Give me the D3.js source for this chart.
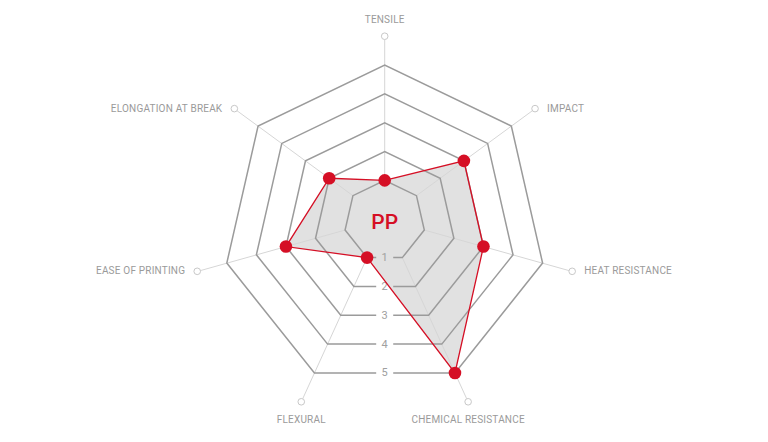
<!DOCTYPE html>
<html>
<head>
<meta charset="utf-8">
<script src="https://cdn.jsdelivr.net/npm/d3@7"></script>
<style>
  body { margin: 0; background: #fff; }
  svg { display: block; }
  text { font-family: Roboto, "DejaVu Sans", sans-serif; }
</style>
</head>
<body>
<svg></svg>
<script>
let axes = ["TENSILE", "IMPACT", "HEAT RESISTANCE", "CHEMICAL RESISTANCE", "FLEXURAL", "EASE OF PRINTING", "ELONGATION AT BREAK"]
let values = [1, 3, 3, 5, 1, 3, 2]
let ticks = [1, 2, 3, 4, 5]
let material = "PP"

let width = 768
let height = 442
let cx = 384.7
let cy = 219
// each ring is centred on its bounding box, so vertices drift down a little with radius
let shift = (1 - Math.cos(Math.PI / 7)) / 2

let svg = d3.select("svg").attr("width", width).attr("height", height)

let rScale = d3.scaleLinear().domain([0, 6]).range([10.3, 192.3])
let aScale = d3.scaleLinear().domain([0, axes.length]).range([0, 2 * Math.PI])

let point = (i, v) => {
    let a = aScale(i)
    let r = rScale(v)
    return [cx + r * Math.sin(a), cy + r * (shift - Math.cos(a))]
}

// data fill goes under the grid
svg.append("path")
    .attr("d", d3.line()(values.map((v, i) => point(i, v))) + "Z")
    .attr("fill", "#e1e1e1")

// axis lines + end markers
axes.forEach((name, i) => {
    let p1 = point(i, 1)
    let p2 = point(i, 6)
    let a = aScale(i)
    let cr = 3.3
    svg.append("line")
        .attr("x1", p1[0]).attr("y1", p1[1])
        .attr("x2", p2[0] - cr * Math.sin(a)).attr("y2", p2[1] + cr * Math.cos(a))
        .attr("stroke", "#d6d6d6").attr("stroke-width", 1)
    svg.append("circle")
        .attr("cx", p2[0]).attr("cy", p2[1]).attr("r", cr)
        .attr("fill", "#fff").attr("stroke", "#c8c8c8").attr("stroke-width", 1)
})

// rings, bottom edge broken for the tick label
let gap = 8.5
ticks.forEach(t => {
    let yb = point(3, t)[1]
    let pts = [[cx + gap, yb]]
    for (let i = 3; i >= 0; i--) pts.push(point(i, t))
    for (let i = axes.length - 1; i >= 4; i--) pts.push(point(i, t))
    pts.push([cx - gap, yb])
    svg.append("path")
        .attr("d", d3.line()(pts))
        .attr("fill", "none")
        .attr("stroke", "#9b9b9b")
        .attr("stroke-width", 1.5)
        .attr("stroke-linejoin", "miter")
    svg.append("text")
        .attr("x", cx).attr("y", yb)
        .attr("text-anchor", "middle")
        .attr("dominant-baseline", "central")
        .attr("font-size", 11)
        .attr("fill", "#a0a0a0")
        .text(t)
})

// data outline + points
svg.append("path")
    .attr("d", d3.line()(values.map((v, i) => point(i, v))) + "Z")
    .attr("fill", "none")
    .attr("stroke", "#d50f25")
    .attr("stroke-width", 1.3)

svg.selectAll(".dot")
    .data(values)
    .enter()
    .append("circle")
    .attr("class", "dot")
    .attr("cx", (v, i) => point(i, v)[0])
    .attr("cy", (v, i) => point(i, v)[1])
    .attr("r", 6.3)
    .attr("fill", "#d50f25")

svg.append("text")
    .attr("x", cx).attr("y", 228.5)
    .attr("text-anchor", "middle")
    .attr("font-size", 21)
    .attr("font-weight", 500)
    .attr("fill", "#d50f25")
    .text(material)

// axis titles
axes.forEach((name, i) => {
    let p = point(i, 6)
    let s = Math.sin(aScale(i))
    let c = Math.cos(aScale(i))
    let x = p[0], y = p[1], anchor = "middle"
    if (Math.abs(s) < 0.5) {
        y = c > 0 ? p[1] - 17 : p[1] + 18
    } else {
        anchor = s > 0 ? "start" : "end"
        x = p[0] + (s > 0 ? 12 : -12)
        y = p[1] - 0.5
    }
    svg.append("text")
        .attr("x", x).attr("y", y)
        .attr("text-anchor", anchor)
        .attr("dominant-baseline", "central")
        .attr("font-size", 10)
        .attr("letter-spacing", 0.2)
        .attr("fill", "#9a9a9a")
        .text(name)
})
</script>
</body>
</html>
